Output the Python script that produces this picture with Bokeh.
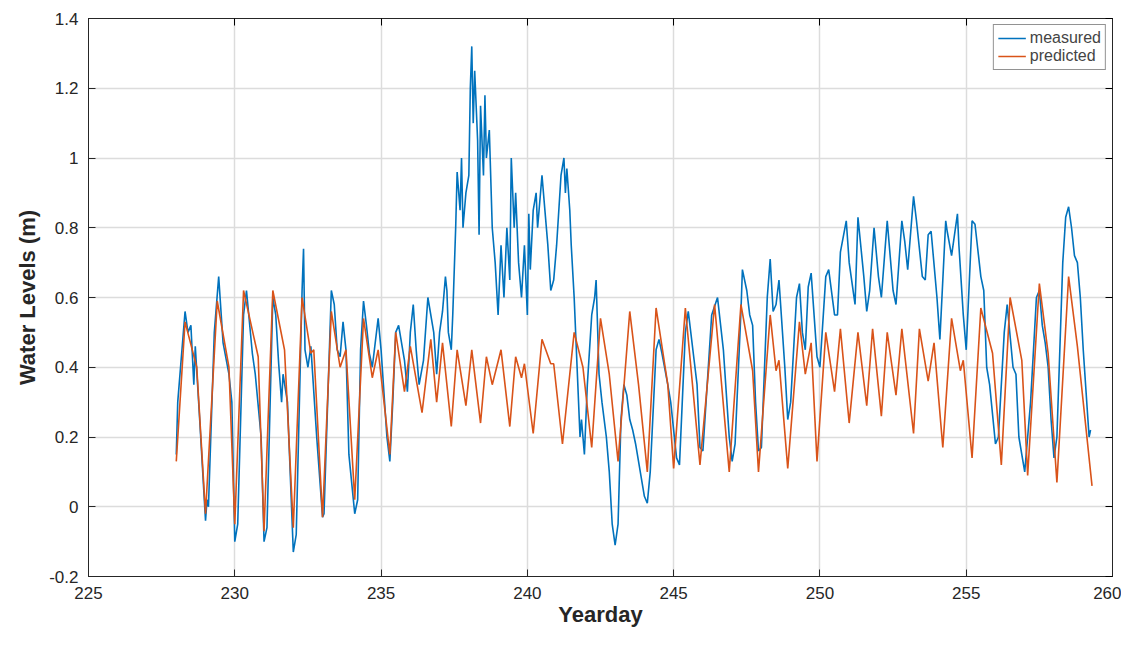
import numpy as np
from bokeh.plotting import figure
from bokeh.models import Range1d, LinearAxis, FixedTicker, CustomJSTickFormatter
from bokeh.embed import file_html
from bokeh.resources import INLINE

# predicted water levels (yearday, m)
pred_day = [228.0, 228.3, 228.7, 229.0, 229.4, 229.8, 230.0, 230.3, 230.8, 231.0, 231.3, 231.7,
            232.0, 232.3, 232.6, 232.7, 233.0, 233.3, 233.6, 233.8, 234.1, 234.4, 234.7, 234.9,
            235.3, 235.5, 235.8, 236.0, 236.4, 236.7, 236.9, 237.1, 237.4, 237.6, 237.9, 238.1,
            238.4, 238.6, 238.8, 239.1, 239.4, 239.6, 239.8, 239.9, 240.2, 240.5, 240.8, 240.9,
            241.2, 241.6, 241.9, 242.2, 242.5, 242.8, 243.1, 243.5, 243.8, 244.1, 244.4, 244.8,
            245.0, 245.4, 245.9, 246.4, 246.9, 247.3, 247.7, 247.9, 248.3, 248.5, 248.6, 248.9,
            249.3, 249.5, 249.7, 249.9, 250.2, 250.5, 250.7, 251.0, 251.3, 251.6, 251.8, 252.1,
            252.3, 252.6, 252.8, 253.2, 253.4, 253.7, 253.9, 254.2, 254.5, 254.8, 254.9, 255.2,
            255.5, 255.9, 256.2, 256.5, 256.9, 257.1, 257.5, 257.8, 258.1, 258.5, 258.8, 259.3]
pred_lvl = [0.13, 0.53, 0.40, -0.02, 0.59, 0.40, -0.05, 0.62, 0.43, -0.07, 0.62, 0.45,
            -0.06, 0.60, 0.44, 0.45, -0.03, 0.56, 0.40, 0.45, 0.02, 0.54, 0.37, 0.45,
            0.15, 0.50, 0.33, 0.46, 0.27, 0.48, 0.30, 0.47, 0.23, 0.45, 0.29, 0.45,
            0.24, 0.43, 0.35, 0.45, 0.23, 0.43, 0.37, 0.41, 0.21, 0.48, 0.41, 0.41,
            0.18, 0.50, 0.40, 0.17, 0.54, 0.38, 0.13, 0.56, 0.35, 0.10, 0.57, 0.35,
            0.11, 0.57, 0.12, 0.58, 0.10, 0.58, 0.39, 0.10, 0.55, 0.39, 0.42, 0.11,
            0.53, 0.38, 0.47, 0.13, 0.50, 0.33, 0.51, 0.24, 0.50, 0.29, 0.51, 0.26,
            0.50, 0.32, 0.51, 0.21, 0.51, 0.36, 0.47, 0.17, 0.54, 0.39, 0.42, 0.14,
            0.57, 0.44, 0.12, 0.60, 0.42, 0.09, 0.64, 0.44, 0.07, 0.66, 0.46, 0.06]

# measured water levels (yearday, m)
meas = [(228.0, 0.15), (228.05, 0.30), (228.3, 0.56), (228.4, 0.50), (228.5, 0.52), (228.6, 0.35),
        (228.65, 0.46), (228.8, 0.25), (229.0, -0.04), (229.05, 0.02), (229.1, 0.00), (229.3, 0.50),
        (229.45, 0.66), (229.6, 0.47), (229.8, 0.38), (229.9, 0.30), (230.0, -0.10), (230.1, -0.05),
        (230.3, 0.55), (230.4, 0.62), (230.6, 0.44), (230.7, 0.38), (230.9, 0.20), (231.0, -0.10),
        (231.1, -0.06), (231.3, 0.60), (231.4, 0.55), (231.5, 0.41), (231.6, 0.30), (231.65, 0.38),
        (231.8, 0.30), (232.0, -0.13), (232.1, -0.08), (232.3, 0.62), (232.35, 0.74), (232.4, 0.45),
        (232.5, 0.40), (232.6, 0.46), (232.8, 0.20), (233.0, -0.03), (233.05, -0.02), (233.3, 0.62),
        (233.4, 0.58), (233.5, 0.45), (233.6, 0.43), (233.7, 0.53), (233.8, 0.45), (233.9, 0.15),
        (234.1, -0.02), (234.2, 0.02), (234.3, 0.45), (234.4, 0.59), (234.5, 0.52), (234.6, 0.44),
        (234.7, 0.40), (234.9, 0.54), (235.0, 0.45), (235.2, 0.20), (235.3, 0.13), (235.4, 0.30),
        (235.5, 0.50), (235.6, 0.52), (235.8, 0.42), (235.9, 0.33), (236.0, 0.50), (236.1, 0.58),
        (236.2, 0.45), (236.3, 0.35), (236.45, 0.42), (236.6, 0.60), (236.8, 0.50), (236.9, 0.38),
        (237.0, 0.50), (237.1, 0.56), (237.2, 0.66), (237.25, 0.62), (237.3, 0.50), (237.4, 0.45),
        (237.45, 0.55), (237.55, 0.80), (237.6, 0.96), (237.7, 0.85), (237.75, 1.00), (237.8, 0.80),
        (237.9, 0.90), (238.0, 0.95), (238.05, 1.20), (238.1, 1.32), (238.15, 1.10), (238.2, 1.25),
        (238.3, 1.05), (238.35, 0.78), (238.4, 1.15), (238.5, 0.95), (238.55, 1.18), (238.6, 1.00),
        (238.7, 1.08), (238.8, 0.80), (238.9, 0.70), (239.0, 0.55), (239.1, 0.75), (239.2, 0.60),
        (239.3, 0.80), (239.4, 0.65), (239.45, 1.00), (239.55, 0.80), (239.6, 0.90), (239.7, 0.70),
        (239.8, 0.60), (239.9, 0.75), (240.0, 0.55), (240.05, 0.84), (240.1, 0.68), (240.2, 0.85),
        (240.3, 0.90), (240.35, 0.80), (240.5, 0.95), (240.6, 0.85), (240.7, 0.75), (240.8, 0.62),
        (240.9, 0.65), (241.0, 0.75), (241.15, 0.95), (241.25, 1.00), (241.3, 0.90), (241.35, 0.97),
        (241.45, 0.85), (241.5, 0.75), (241.6, 0.60), (241.7, 0.40), (241.8, 0.20), (241.85, 0.25),
        (241.95, 0.15), (242.05, 0.35), (242.2, 0.55), (242.3, 0.60), (242.35, 0.65), (242.45, 0.38),
        (242.55, 0.30), (242.7, 0.20), (242.8, 0.10), (242.9, -0.05), (243.0, -0.11), (243.1, -0.05),
        (243.2, 0.25), (243.3, 0.35), (243.4, 0.32), (243.5, 0.25), (243.6, 0.22), (243.7, 0.18),
        (243.8, 0.13), (244.0, 0.03), (244.1, 0.01), (244.2, 0.10), (244.4, 0.45), (244.5, 0.48),
        (244.6, 0.44), (244.8, 0.35), (244.9, 0.30), (245.1, 0.14), (245.2, 0.12), (245.4, 0.50),
        (245.5, 0.56), (245.7, 0.42), (245.8, 0.35), (245.9, 0.17), (246.0, 0.16), (246.3, 0.55),
        (246.5, 0.60), (246.7, 0.45), (246.9, 0.20), (247.0, 0.13), (247.1, 0.18), (247.3, 0.56),
        (247.35, 0.68), (247.5, 0.62), (247.6, 0.55), (247.7, 0.52), (247.8, 0.30), (247.9, 0.16),
        (248.0, 0.17), (248.2, 0.60), (248.3, 0.71), (248.4, 0.56), (248.5, 0.58), (248.6, 0.65),
        (248.8, 0.40), (248.9, 0.25), (249.0, 0.30), (249.2, 0.60), (249.3, 0.64), (249.4, 0.50),
        (249.5, 0.45), (249.6, 0.63), (249.7, 0.67), (249.9, 0.43), (250.0, 0.40), (250.2, 0.66),
        (250.3, 0.68), (250.5, 0.55), (250.6, 0.55), (250.7, 0.73), (250.9, 0.82), (251.0, 0.70),
        (251.2, 0.58), (251.3, 0.83), (251.5, 0.66), (251.6, 0.56), (251.7, 0.62), (251.85, 0.80),
        (252.0, 0.66), (252.1, 0.60), (252.3, 0.82), (252.5, 0.62), (252.6, 0.58), (252.8, 0.82),
        (252.9, 0.76), (253.0, 0.68), (253.2, 0.89), (253.3, 0.82), (253.5, 0.66), (253.6, 0.65),
        (253.7, 0.78), (253.8, 0.79), (254.0, 0.60), (254.1, 0.48), (254.3, 0.82), (254.35, 0.79),
        (254.5, 0.72), (254.7, 0.84), (254.75, 0.75), (254.9, 0.55), (255.0, 0.45), (255.2, 0.82),
        (255.3, 0.81), (255.5, 0.66), (255.6, 0.62), (255.7, 0.40), (255.8, 0.35), (256.0, 0.18),
        (256.1, 0.20), (256.3, 0.50), (256.4, 0.58), (256.6, 0.40), (256.7, 0.38), (256.8, 0.20),
        (257.0, 0.10), (257.2, 0.30), (257.4, 0.60), (257.5, 0.62), (257.6, 0.52), (257.7, 0.47),
        (257.8, 0.40), (257.9, 0.25), (258.0, 0.14), (258.1, 0.20), (258.3, 0.70), (258.4, 0.83),
        (258.5, 0.86), (258.6, 0.80), (258.7, 0.72), (258.8, 0.70), (258.9, 0.60), (259.0, 0.45),
        (259.2, 0.20), (259.25, 0.22)]
meas_day = [d for d, v in meas]
meas_lvl = [v for d, v in meas]

x_ticks = [225, 230, 235, 240, 245, 250, 255, 260]
y_ticks = [-0.2, 0, 0.2, 0.4, 0.6, 0.8, 1.0, 1.2, 1.4]

FONT = "Liberation Sans"

p = figure(width=1121, height=629, output_backend="svg", toolbar_location=None,
           x_range=Range1d(225, 260), y_range=Range1d(-0.2, 1.4),
           min_border_left=88, min_border_right=9, min_border_top=18, min_border_bottom=51)
p.outline_line_color = "#262626"
p.background_fill_color = "white"

fmt = CustomJSTickFormatter(code="return String(Number(tick.toFixed(2)));")

for ax in (p.xaxis[0], p.yaxis[0]):
    ax.major_tick_in = 7
    ax.major_tick_out = 0
    ax.minor_tick_line_color = None
    ax.axis_line_color = "#262626"
    ax.major_tick_line_color = "#262626"
    ax.major_label_text_font = FONT
    ax.major_label_text_font_size = "17px"
    ax.major_label_text_color = "#262626"
    ax.axis_label_text_font = FONT
    ax.axis_label_text_font_style = "bold"
    ax.axis_label_text_font_size = "22px"
    ax.axis_label_text_color = "#262626"
p.xaxis.ticker = FixedTicker(ticks=x_ticks)
p.yaxis.ticker = FixedTicker(ticks=y_ticks)
p.yaxis.formatter = fmt
p.xaxis.axis_label = "Yearday"
p.yaxis.axis_label = "Water Levels (m)"
p.xaxis.major_label_standoff = 10
p.yaxis.major_label_standoff = 10
p.xaxis.axis_label_standoff = 0
p.yaxis.axis_label_standoff = 6

# mirrored axes on top and right, ticks only
p.add_layout(LinearAxis(ticker=FixedTicker(ticks=y_ticks), major_label_text_color=None,
                        major_tick_in=7, major_tick_out=0, minor_tick_line_color=None,
                        axis_line_color="#262626", major_label_text_font_size="1px"), "right")
p.add_layout(LinearAxis(ticker=FixedTicker(ticks=x_ticks), major_label_text_color=None,
                        major_tick_in=7, major_tick_out=0, minor_tick_line_color=None,
                        axis_line_color="#262626", major_label_text_font_size="1px"), "above")

p.grid.grid_line_color = "#dcdcdc"
p.grid.grid_line_width = 1.5
p.xgrid.ticker = FixedTicker(ticks=x_ticks)
p.ygrid.ticker = FixedTicker(ticks=y_ticks)

p.line(meas_day, meas_lvl, line_color="#0072BD", line_width=1.6, legend_label="measured")
p.line(pred_day, pred_lvl, line_color="#D95319", line_width=1.6, legend_label="predicted")

p.legend.location = "top_right"
p.legend.border_line_color = "#262626"
p.legend.label_text_font = FONT
p.legend.label_text_font_size = "16px"
p.legend.label_height = 16
p.legend.glyph_height = 16
p.legend.glyph_width = 28
p.legend.spacing = 0
p.legend.padding = 4
p.legend.margin = 6
p.legend.label_standoff = 4

open("out.html", "w").write(file_html(p, INLINE))
